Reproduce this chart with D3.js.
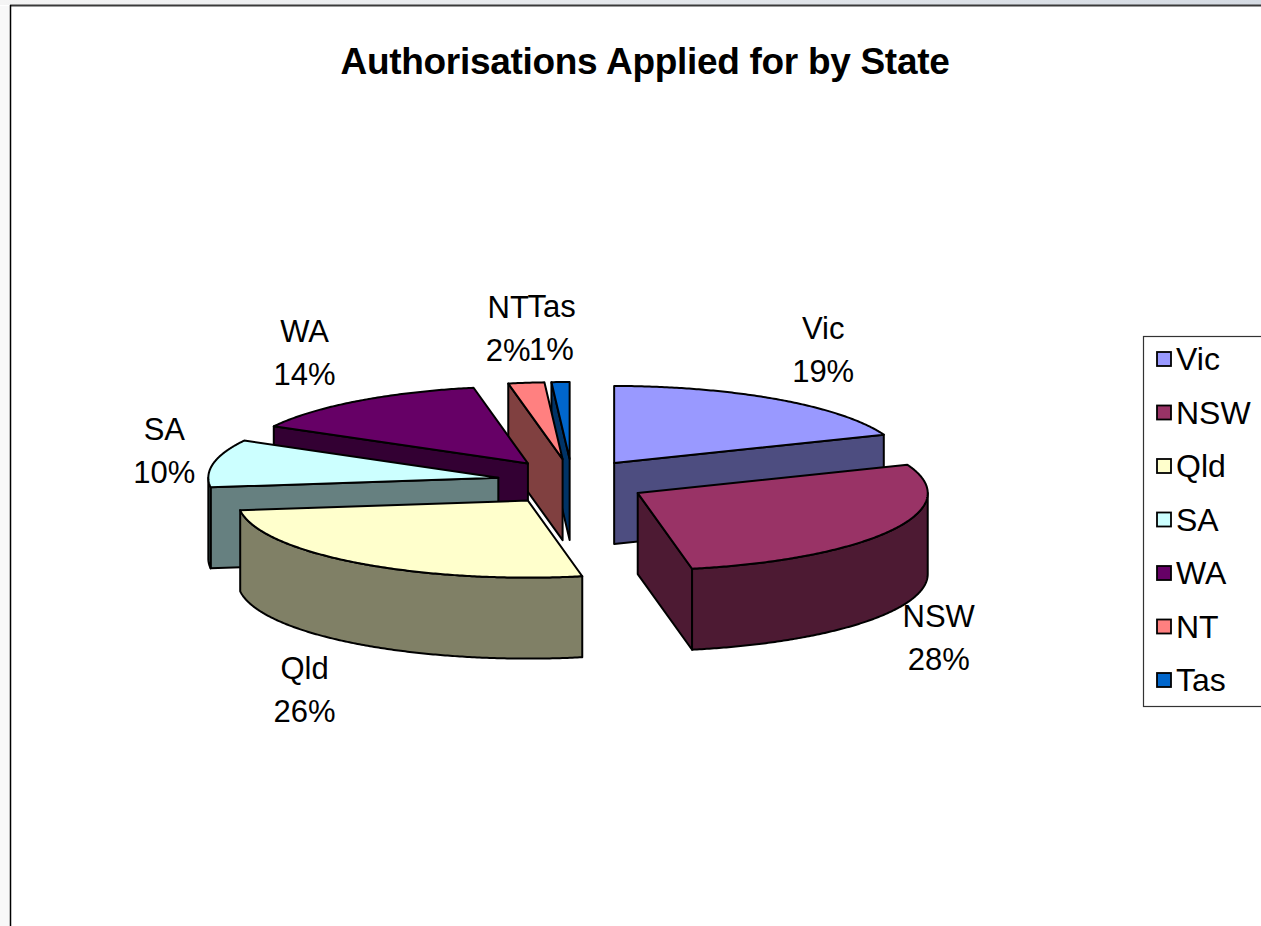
<!DOCTYPE html>
<html><head><meta charset="utf-8">
<script src="https://cdn.jsdelivr.net/npm/d3@7"></script>
<style>html,body{margin:0;padding:0;background:#fff;overflow:hidden}svg{display:block}</style>
</head><body>
<script>
const categories = ["Vic", "NSW", "Qld", "SA", "WA", "NT", "Tas"];
const values = [19, 28, 26, 10, 14, 2, 1];
const topColors = ["#9999FF", "#993366", "#FFFFCC", "#CCFFFF", "#660066", "#FF8080", "#0066CC"];
const title = "Authorisations Applied for by State";

const W = 1261, H = 926;
const svg = d3.select("body").append("svg").attr("width", W).attr("height", H);
const defs = svg.append("defs");
const grad = defs.append("linearGradient").attr("id", "bar").attr("x1", "0").attr("x2", "1");
grad.append("stop").attr("offset", "0").attr("stop-color", "#f4f4f4");
grad.append("stop").attr("offset", "1").attr("stop-color", "#d5dbe3");

svg.append("rect").attr("width", W).attr("height", H).attr("fill", "#fff");
svg.append("rect").attr("x", 0).attr("y", 6).attr("width", 10).attr("height", H).attr("fill", "#f8f8f8");
svg.append("rect").attr("width", W).attr("height", 5).attr("fill", "url(#bar)");
svg.append("line").attr("x1", 10).attr("x2", W).attr("y1", 5.5).attr("y2", 5.5).attr("stroke", "#3a3a3a").attr("stroke-width", 2);
svg.append("line").attr("x1", 10.5).attr("x2", 10.5).attr("y1", 5).attr("y2", H).attr("stroke", "#000").attr("stroke-width", 1.5);

svg.append("text").attr("x", 645).attr("y", 74).attr("text-anchor", "middle")
  .attr("font-family", "Liberation Sans, Arial, sans-serif").attr("font-weight", "bold")
  .attr("font-size", 37).attr("letter-spacing", -0.3).text(title);

// 3D pie geometry
const CX = 572, CY = 482, RX = 290, RY = 77, DEPTH = 81, EX = 75, EY = 23;
const total = d3.sum(values);
const arcs = d3.pie().sort(null).value(d => d)(values);
const deg = Math.PI / 180;

function pt(c, th, z) { return [c.x + RX * Math.sin(th), c.y - RY * Math.cos(th) + z]; }
function arcPts(c, a, b, z) {
  const n = Math.max(2, Math.ceil(Math.abs(b - a) / (0.5 * deg)));
  return d3.range(n + 1).map(i => pt(c, a + (b - a) * i / n, z));
}
const line = d3.line();
function shade(col) { const c = d3.rgb(col); return d3.rgb(c.r * 0.5, c.g * 0.5, c.b * 0.5).toString(); }

const slices = arcs.map((a, i) => {
  const mid = (a.startAngle + a.endAngle) / 2;
  return { i, a, mid, c: { x: CX + EX * Math.sin(mid), y: CY - EY * Math.cos(mid) } };
});
const order = slices.slice().sort((p, q) => (-Math.cos(p.mid)) - (-Math.cos(q.mid)));

const g = svg.append("g").attr("stroke", "#000").attr("stroke-width", 2).attr("stroke-linejoin", "round");

order.forEach(s => {
  const { c, a, i } = s;
  const top = topColors[i], side = shade(top);
  const sA = a.startAngle, eA = a.endAngle;
  const faces = [];
  if (Math.cos(sA - Math.PI / 2) < -1e-6) faces.push(sA);
  if (Math.cos(eA + Math.PI / 2) < -1e-6) faces.push(eA);
  faces.forEach(th => {
    const p = [[c.x, c.y], pt(c, th, 0), pt(c, th, DEPTH), [c.x, c.y + DEPTH]];
    g.append("path").attr("d", line(p) + "Z").attr("fill", side);
  });
  const r0 = Math.max(sA, Math.PI / 2), r1 = Math.min(eA, 3 * Math.PI / 2);
  if (r1 > r0) {
    const p = arcPts(c, r0, r1, 0).concat(arcPts(c, r1, r0, DEPTH));
    g.append("path").attr("d", line(p) + "Z").attr("fill", side);
  }
  const p = [[c.x, c.y]].concat(arcPts(c, sA, eA, 0));
  g.append("path").attr("d", line(p) + "Z").attr("fill", top);
});

// data labels
const lab = svg.append("g").attr("font-family", "Liberation Sans, Arial, sans-serif").attr("font-size", 31)
  .attr("text-anchor", "middle").attr("fill", "#000");
slices.forEach(s => {
  const m = s.mid, cm = Math.cos(m), sm = Math.sin(m);
  const anchor = pt(s.c, m, cm > 0 ? 0 : DEPTH);
  const lx = anchor[0] + 48 * Math.max(-1, Math.min(1, 2 * sm)) - 6 * Math.abs(cm) * (sm < 0 ? 1 : 0.4);
  const ly = anchor[1] - 58 * cm + (cm > 0.95 ? 5 : 0);
  const pct = Math.round(values[s.i] / total * 100) + "%";
  lab.append("text").attr("x", lx).attr("y", ly - 12).text(categories[s.i]);
  lab.append("text").attr("x", lx).attr("y", ly + 31).text(pct);
});

// legend
const leg = svg.append("g");
leg.append("rect").attr("x", 1143.5).attr("y", 336.5).attr("width", 200).attr("height", 370)
  .attr("fill", "#fff").attr("stroke", "#333").attr("stroke-width", 1.2);
const ly = d3.scalePoint().domain(categories).range([359, 680]);
categories.forEach((k, i) => {
  const y = ly(k);
  leg.append("rect").attr("x", 1157).attr("y", y - 7).attr("width", 14).attr("height", 14)
    .attr("fill", topColors[i]).attr("stroke", "#000").attr("stroke-width", 1.8);
  leg.append("text").attr("x", 1176).attr("y", y + 11).attr("font-family", "Liberation Sans, Arial, sans-serif")
    .attr("font-size", 32).text(k);
});
</script>
</body></html>
